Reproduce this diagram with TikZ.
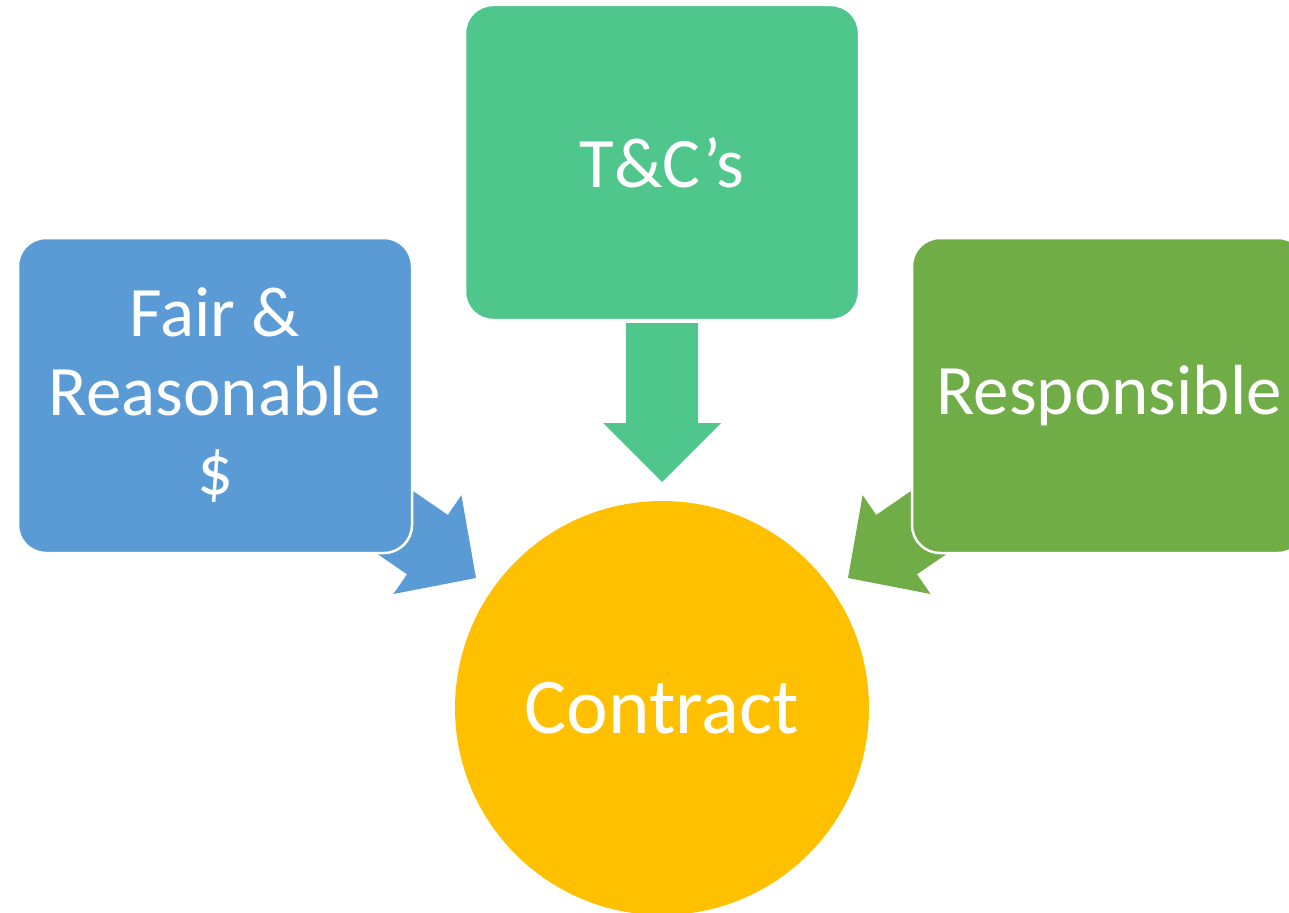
\documentclass[tikz,border=0pt]{standalone}
\usepackage{fontspec}
\setmainfont{Carlito}
\definecolor{cblue}{HTML}{5B9BD5}
\definecolor{cteal}{HTML}{4FC68B}
\definecolor{cgreen}{HTML}{70AD47}
\definecolor{cyellow}{HTML}{FFC000}
\begin{document}
\begin{tikzpicture}[x=1pt,y=-1pt,
  box/.style={rounded corners=28pt, draw=white, line width=2.5pt,
    minimum width=394pt, minimum height=315pt, text=white, inner sep=0pt,
    align=center, font=\fontsize{71}{79}\selectfont}]
\clip (0,0) rectangle (1289,912);
% arrows (drawn first, tails hidden under boxes)
\fill[cblue] (476,578) -- (393.4,594.0) -- (407.0,574.3) -- (324.6,517.7)
  -- (365.4,458.3) -- (447.8,514.9) -- (461.4,495.2) -- cycle;
\fill[cgreen] (848,578) -- (930.6,594.0) -- (917.0,574.3) -- (999.4,517.7)
  -- (958.6,458.3) -- (876.2,514.9) -- (862.6,495.2) -- cycle;
\fill[cteal] (626,323) -- (698,323) -- (698,423) -- (721,423) -- (662,482)
  -- (603,423) -- (626,423) -- cycle;
% boxes
\node[box, fill=cblue] (fair) at (215,395.5) {\raisebox{-3pt}{Fair \&}\\\raisebox{-3pt}{Reasonable}\\\raisebox{-3pt}{\$}};
\node[box, fill=cteal] (tc) at (662,162.5) {T\&C’s};
\node[box, fill=cgreen] (resp) at (1109,395.5) {\raisebox{-4pt}{Responsible}};
% circle
\node[circle, fill=cyellow, minimum size=414pt, inner sep=0pt, text=white,
  font=\fontsize{79}{85}\selectfont] (contract) at (662,708) {Contract};
\end{tikzpicture}
\end{document}
